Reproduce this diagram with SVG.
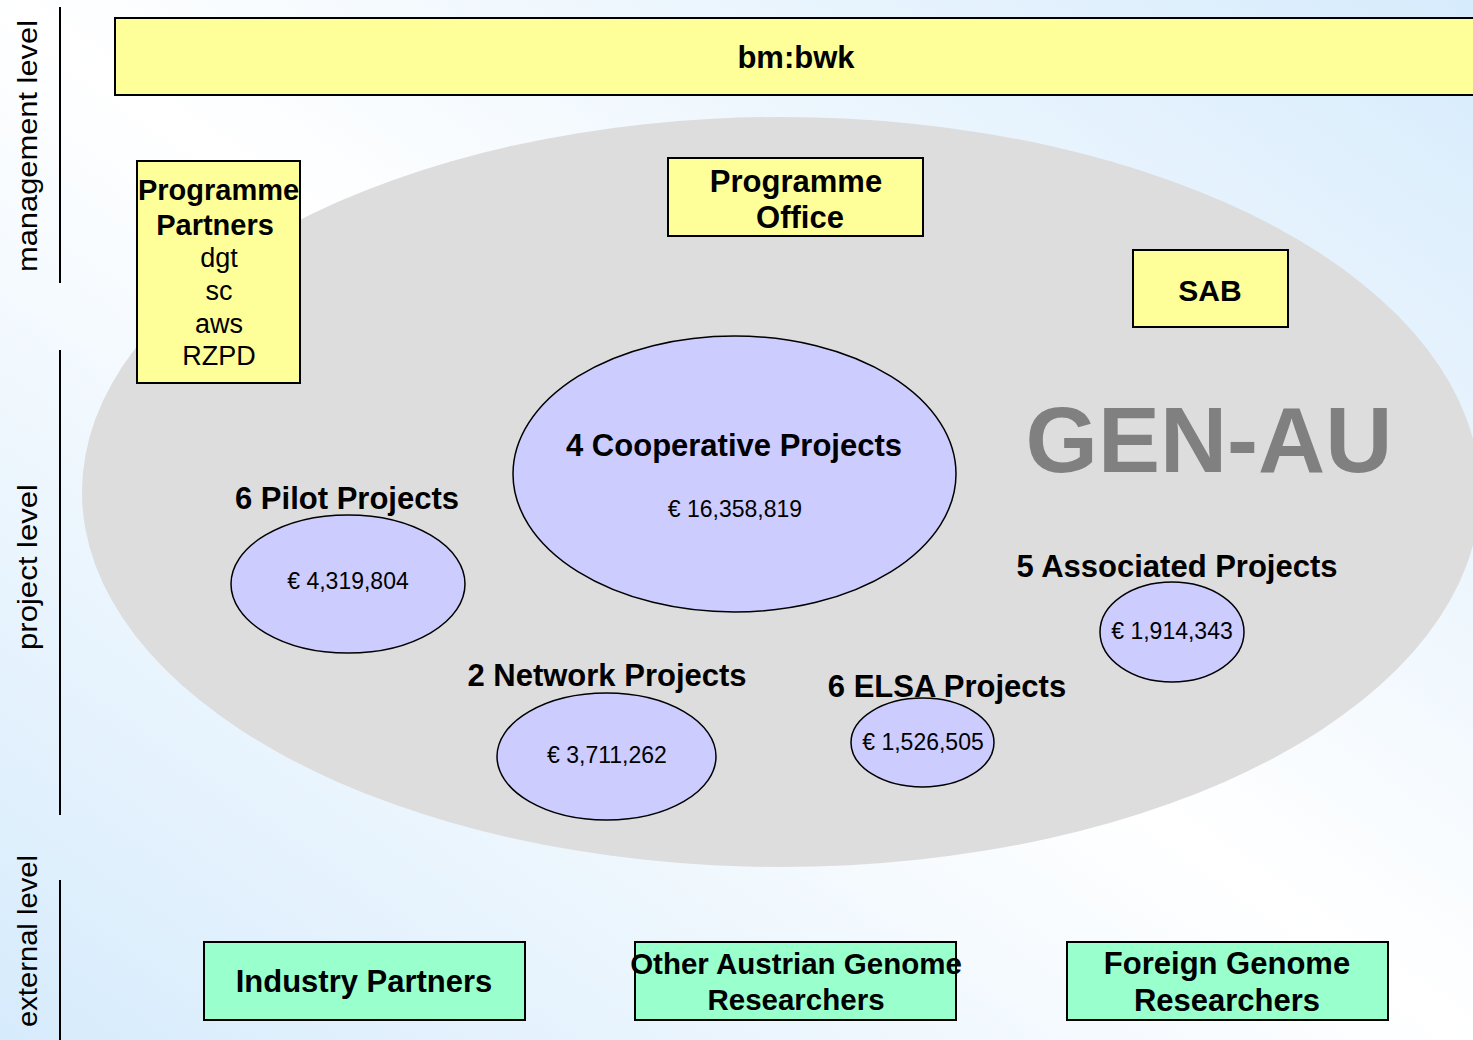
<svg xmlns="http://www.w3.org/2000/svg" width="1473" height="1040" viewBox="0 0 1473 1040">
  <defs>
    <linearGradient id="bgGrad" x1="1" y1="0" x2="0" y2="1">
      <stop offset="0" stop-color="#d6ebfc"/>
      <stop offset="0.5" stop-color="#ffffff"/>
      <stop offset="1" stop-color="#d6ebfc"/>
    </linearGradient>
    <style>
      .t { font-family: "Liberation Sans", Arial, sans-serif; fill: #000; text-anchor: middle; }
      .b { font-weight: bold; }
      .box-y { fill: #ffff99; stroke: #000; stroke-width: 2; }
      .box-g { fill: #99ffcc; stroke: #000; stroke-width: 2; }
      .proj { fill: #ccccff; stroke: #000; stroke-width: 1.5; }
      .lvl { font-family: "Liberation Sans", Arial, sans-serif; font-size: 27px; fill: #000; text-anchor: middle; }
      .sep { stroke: #000; stroke-width: 2; }
      .lab { font-size: 31px; font-weight: bold; }
      .eur { font-size: 23px; }
    </style>
  </defs>

  <rect id="background" x="0" y="0" width="1473" height="1040" fill="url(#bgGrad)"/>

  <g id="level-axis">
    <line class="sep" x1="60" y1="7" x2="60" y2="283"/>
    <line class="sep" x1="60" y1="350" x2="60" y2="815"/>
    <line class="sep" x1="60" y1="880" x2="60" y2="1040"/>
    <text class="lvl" transform="translate(37,146) rotate(-90)" textLength="252" lengthAdjust="spacingAndGlyphs">management level</text>
    <text class="lvl" transform="translate(37,567) rotate(-90)" textLength="166" lengthAdjust="spacingAndGlyphs">project level</text>
    <text class="lvl" transform="translate(37,941) rotate(-90)" textLength="172" lengthAdjust="spacingAndGlyphs">external level</text>
  </g>

  <g id="gen-au">
    <ellipse cx="781" cy="492" rx="699" ry="375" fill="#dddddd"/>
    <text class="t b" x="1209" y="472" font-size="93" style="fill:#808080">GEN-AU</text>
  </g>

  <g id="bmbwk">
    <rect class="box-y" x="115" y="18" width="1370" height="77"/>
    <text class="t b" x="796" y="68" font-size="31">bm:bwk</text>
  </g>

  <g id="programme-partners">
    <rect class="box-y" x="137" y="161" width="163" height="222"/>
    <text class="t b" x="218.5" y="200" font-size="29">Programme</text>
    <text class="t b" x="215" y="235" font-size="29">Partners</text>
    <text class="t" x="219" y="267" font-size="27">dgt</text>
    <text class="t" x="219" y="300" font-size="27">sc</text>
    <text class="t" x="219" y="333" font-size="27">aws</text>
    <text class="t" x="219" y="365" font-size="27">RZPD</text>
  </g>

  <g id="programme-office">
    <rect class="box-y" x="668" y="158" width="255" height="78"/>
    <text class="t b" x="796" y="192" font-size="31">Programme</text>
    <text class="t b" x="800" y="228" font-size="31">Office</text>
  </g>

  <g id="sab">
    <rect class="box-y" x="1133" y="250" width="155" height="77"/>
    <text class="t b" x="1210" y="301" font-size="30">SAB</text>
  </g>

  <g id="cooperative-projects">
    <ellipse class="proj" cx="734.5" cy="474" rx="221.5" ry="138"/>
    <text class="t lab" x="734" y="456">4 Cooperative Projects</text>
    <text class="t eur" x="735" y="517">€ 16,358,819</text>
  </g>

  <g id="pilot-projects">
    <ellipse class="proj" cx="348" cy="584" rx="117" ry="69"/>
    <text class="t lab" x="347" y="509">6 Pilot Projects</text>
    <text class="t eur" x="348" y="589">€ 4,319,804</text>
  </g>

  <g id="network-projects">
    <ellipse class="proj" cx="606.5" cy="756.5" rx="109.5" ry="63.5"/>
    <text class="t lab" x="607" y="686">2 Network Projects</text>
    <text class="t eur" x="607" y="763">€ 3,711,262</text>
  </g>

  <g id="elsa-projects">
    <ellipse class="proj" cx="922.5" cy="742.5" rx="71.5" ry="44.5"/>
    <text class="t lab" x="947" y="697">6 ELSA Projects</text>
    <text class="t eur" x="923" y="750">€ 1,526,505</text>
  </g>

  <g id="associated-projects">
    <ellipse class="proj" cx="1172" cy="632" rx="72" ry="50"/>
    <text class="t lab" x="1177" y="577">5 Associated Projects</text>
    <text class="t eur" x="1172" y="639">€ 1,914,343</text>
  </g>

  <g id="industry-partners">
    <rect class="box-g" x="204" y="942" width="321" height="78"/>
    <text class="t b" x="364" y="992" font-size="31">Industry Partners</text>
  </g>

  <g id="other-austrian-researchers">
    <rect class="box-g" x="635" y="942" width="321" height="78"/>
    <text class="t b" x="796" y="974" font-size="29.5">Other Austrian Genome</text>
    <text class="t b" x="796" y="1010" font-size="29.5">Researchers</text>
  </g>

  <g id="foreign-researchers">
    <rect class="box-g" x="1067" y="942" width="321" height="78"/>
    <text class="t b" x="1227" y="974" font-size="31">Foreign Genome</text>
    <text class="t b" x="1227" y="1011" font-size="31">Researchers</text>
  </g>

  <g id="connectors"/>
</svg>
